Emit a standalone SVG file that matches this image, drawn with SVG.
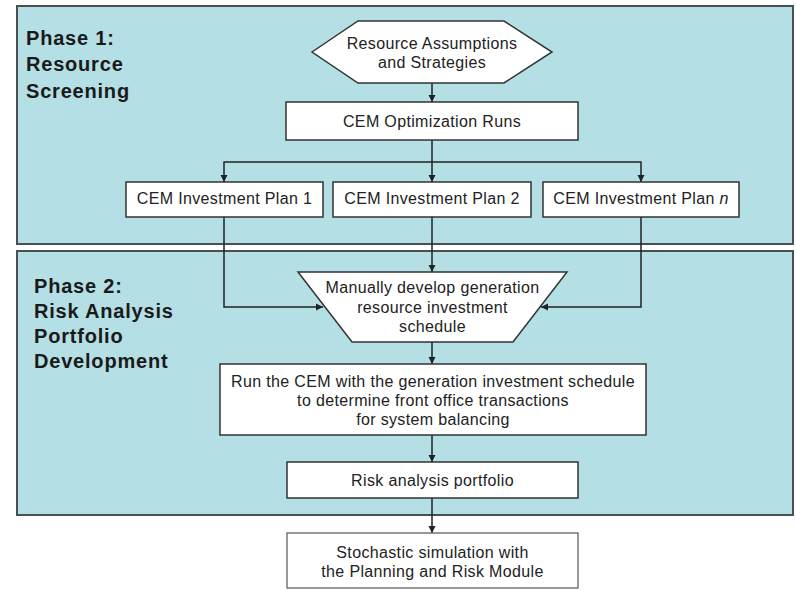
<svg xmlns="http://www.w3.org/2000/svg" width="796" height="590" viewBox="0 0 796 590">
<style>
.panel{fill:#b4dfe5;stroke:#4a4f52;stroke-width:2}
.box{fill:#ffffff;stroke:#333;stroke-width:1.5}
.box2{fill:#ffffff;stroke:#555;stroke-width:1.2}
.t{font-family:"Liberation Sans",Arial,sans-serif;font-size:16px;fill:#222;text-anchor:middle;letter-spacing:0.35px}
.ph{font-family:"Liberation Sans",Arial,sans-serif;font-size:20px;font-weight:bold;fill:#1a1a1a;letter-spacing:0.8px}
.c{fill:none;stroke:#222;stroke-width:1.5}
</style>
<defs>
<marker id="ah" markerWidth="8" markerHeight="8" refX="7" refY="4" orient="auto" markerUnits="userSpaceOnUse">
<path d="M0,0.5 L7,4 L0,7.5 Z" fill="#222"/>
</marker>
</defs>
<rect width="796" height="590" fill="#ffffff"/>
<g id="phase1">
<rect class="panel" x="17" y="6" width="776" height="238"/>
<text class="ph" x="26" y="45">Phase 1:</text>
<text class="ph" x="26" y="71">Resource</text>
<text class="ph" x="26" y="98">Screening</text>
</g>
<g id="phase2">
<rect class="panel" x="17" y="251" width="776" height="264"/>
<text class="ph" x="34" y="293">Phase 2:</text>
<text class="ph" x="34" y="318">Risk Analysis</text>
<text class="ph" x="34" y="343">Portfolio</text>
<text class="ph" x="34" y="368">Development</text>
</g>
<g id="connectors">
<path class="c" d="M432,83 V102" marker-end="url(#ah)"/>
<path class="c" d="M432,140 V182" marker-end="url(#ah)"/>
<path class="c" d="M432,162 H224 V182" marker-end="url(#ah)"/>
<path class="c" d="M432,162 H641 V182" marker-end="url(#ah)"/>
<path class="c" d="M224,217 V307 H323" marker-end="url(#ah)"/>
<path class="c" d="M641,217 V307 H541" marker-end="url(#ah)"/>
<path class="c" d="M432,217 V272" marker-end="url(#ah)"/>
<path class="c" d="M432,342 V364" marker-end="url(#ah)"/>
<path class="c" d="M432,435 V462" marker-end="url(#ah)"/>
<path class="c" d="M432,498 V533" marker-end="url(#ah)"/>
</g>
<g id="resource-assumptions">
<polygon class="box" points="312,52 358,21 504,21 552,52 504,83 358,83"/>
<text class="t" x="432" y="49">Resource Assumptions</text>
<text class="t" x="432" y="68">and Strategies</text>
</g>
<g id="cem-optimization">
<rect class="box" x="286" y="102" width="292" height="38"/>
<text class="t" x="432" y="127">CEM Optimization Runs</text>
</g>
<g id="plan1">
<rect class="box" x="126" y="182" width="197" height="35"/>
<text class="t" x="224.5" y="204">CEM Investment Plan 1</text>
</g>
<g id="plan2">
<rect class="box" x="333" y="182" width="198" height="35"/>
<text class="t" x="432" y="204">CEM Investment Plan 2</text>
</g>
<g id="plann">
<rect class="box" x="543" y="182" width="196" height="35"/>
<text class="t" x="641" y="204">CEM Investment Plan <tspan font-style="italic">n</tspan></text>
</g>
<g id="manual-schedule">
<polygon class="box" points="298,272 567,272 513,342 352,342"/>
<text class="t" x="432.5" y="293">Manually develop generation</text>
<text class="t" x="432.5" y="313">resource investment</text>
<text class="t" x="432.5" y="332">schedule</text>
</g>
<g id="run-cem">
<rect class="box" x="220" y="364" width="426" height="71"/>
<text class="t" x="433" y="387">Run the CEM with the generation investment schedule</text>
<text class="t" x="433" y="406">to determine front office transactions</text>
<text class="t" x="433" y="425">for system balancing</text>
</g>
<g id="risk-portfolio">
<rect class="box" x="287" y="462" width="291" height="36"/>
<text class="t" x="432.5" y="486">Risk analysis portfolio</text>
</g>
<g id="stochastic">
<rect class="box2" x="287" y="533" width="291" height="55"/>
<text class="t" x="432.5" y="558">Stochastic simulation with</text>
<text class="t" x="432.5" y="577">the Planning and Risk Module</text>
</g>
</svg>
